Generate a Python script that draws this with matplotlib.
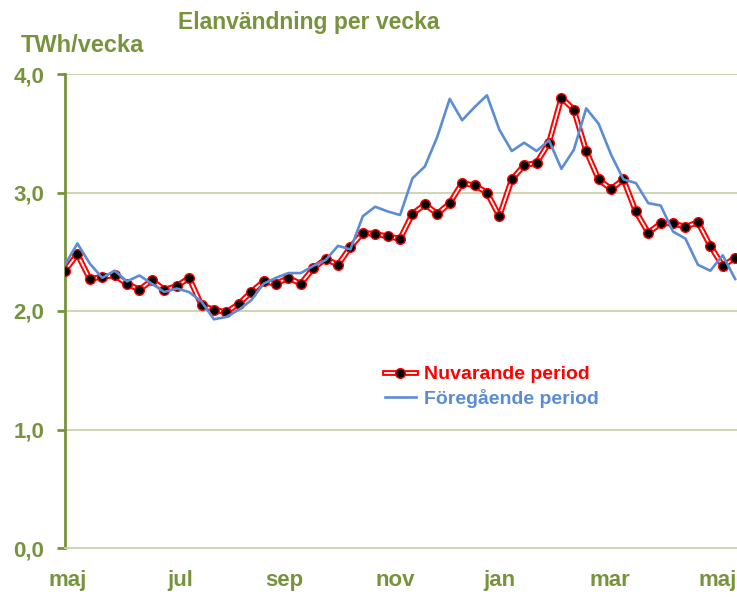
import matplotlib
matplotlib.use('Agg')
import matplotlib.pyplot as plt
from matplotlib.legend_handler import HandlerTuple

# weekly values, TWh/vecka
nuvarande = [2.34, 2.48, 2.27, 2.29, 2.30, 2.23, 2.18, 2.26, 2.18, 2.21,
             2.28, 2.05, 2.01, 1.99, 2.06, 2.16, 2.25, 2.23, 2.28, 2.23,
             2.36, 2.44, 2.39, 2.54, 2.66, 2.65, 2.63, 2.61, 2.82, 2.90,
             2.82, 2.91, 3.08, 3.06, 3.00, 2.80, 3.11, 3.23, 3.25, 3.42,
             3.80, 3.70, 3.35, 3.11, 3.03, 3.11, 2.84, 2.66, 2.74, 2.74,
             2.71, 2.75, 2.55, 2.38, 2.45]
foregaende = [2.39, 2.57, 2.40, 2.28, 2.34, 2.25, 2.30, 2.23, 2.16, 2.19,
              2.16, 2.08, 1.93, 1.95, 2.01, 2.09, 2.23, 2.28, 2.32, 2.32,
              2.38, 2.43, 2.55, 2.52, 2.80, 2.88, 2.84, 2.81, 3.12, 3.22,
              3.47, 3.79, 3.61, 3.72, 3.82, 3.53, 3.35, 3.42, 3.35, 3.44,
              3.20, 3.36, 3.71, 3.58, 3.32, 3.11, 3.08, 2.91, 2.89, 2.67,
              2.61, 2.39, 2.34, 2.47, 2.27]
veckor = list(range(len(nuvarande)))
manader = ['maj', 'jul', 'sep', 'nov', 'jan', 'mar', 'maj']
manad_pos = [0.2, 9.3, 17.7, 26.6, 35.0, 43.9, 52.6]
y_ticks = [0, 1, 2, 3, 4]
y_labels = ['0,0', '1,0', '2,0', '3,0', '4,0']

oliv = '#77933C'
grid_c = '#C9D3AE'
bla = '#5B8DD6'

plt.rcParams['font.family'] = ['Liberation Sans', 'DejaVu Sans']
plt.rcParams['font.weight'] = 'bold'

fig = plt.figure(figsize=(7.37, 5.97), dpi=100)
ax = fig.add_axes([65/737, 49/597, 672/737, 474/597])

l1 = ax.plot(veckor, nuvarande, color='red', lw=4.2, zorder=3, solid_joinstyle='round')[0]
l2 = ax.plot(veckor, nuvarande, color='white', lw=1.3, zorder=4, solid_joinstyle='round')[0]
l3 = ax.plot(veckor, nuvarande, 'o', mfc='black', mec='red', ms=7, mew=1, zorder=5)[0]
lb = ax.plot(veckor, foregaende, color=bla, lw=1.9, zorder=6, solid_joinstyle='round')[0]

ax.set_xlim(0, 54.15)
ax.set_ylim(0, 4)
ax.set_yticks(y_ticks)
ax.set_yticklabels(y_labels)
ax.set_xticks(manad_pos)
ax.set_xticklabels(manader)
for y in y_ticks[1:]:
    ax.axhline(y, color=grid_c, lw=1.3, zorder=1)

for s in ['top', 'right']:
    ax.spines[s].set_visible(False)
ax.spines['left'].set_color(oliv)
ax.spines['left'].set_linewidth(2)
ax.spines['bottom'].set_color(grid_c)
ax.spines['bottom'].set_linewidth(1.3)
ax.tick_params(axis='y', colors=oliv, labelsize=16, length=6, width=2, pad=9)
ax.tick_params(axis='x', colors=oliv, labelsize=16, length=0, pad=16)
for t in ax.get_xticklabels() + ax.get_yticklabels():
    t.set_fontweight('bold')

fig.text(309/737, 1 - 22/597, 'Elanvändning per vecka', color=oliv, fontsize=16.5,
         fontweight='bold', ha='center', va='center')
fig.text(21/737, 1 - 45/597, 'TWh/vecka', color=oliv, fontsize=17,
         fontweight='bold', ha='left', va='center')

leg = ax.legend([(l1, l2, l3), lb], ['Nuvarande period', 'Föregående period'],
                handler_map={tuple: HandlerTuple(ndivide=1, pad=0)},
                loc='upper left', bbox_to_anchor=(312/672, 1 - (358-74)/474),
                frameon=False, fontsize=14, handlelength=1.6, handletextpad=0.4,
                labelspacing=0.3, borderaxespad=0)
leg.get_texts()[0].set_color('red')
leg.get_texts()[1].set_color(bla)
for t in leg.get_texts():
    t.set_fontweight('bold')

fig.savefig('out.png', dpi=100)
